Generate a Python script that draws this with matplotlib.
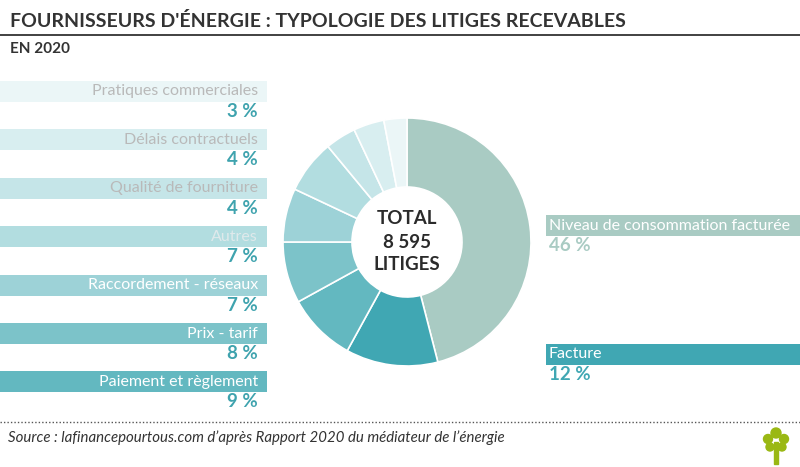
import numpy as np
import matplotlib.pyplot as plt
from matplotlib.patches import Ellipse, Rectangle

# data
pie_labels = ['Niveau de consommation facturée', 'Facture', 'Paiement et règlement',
              'Prix - tarif', 'Raccordement - réseaux', 'Autres', 'Qualité de fourniture',
              'Délais contractuels', 'Pratiques commerciales']
pie_values = [46, 12, 9, 8, 7, 7, 4, 4, 3]
pie_colors = ['#a9cbc3', '#40a7b3', '#63b8c0', '#7cc3c9', '#9dd2d7', '#b2dde0',
              '#c5e5e8', '#d8eef0', '#ebf6f7']
label_colors = ['#ffffff', '#ffffff', '#ffffff', '#ffffff', '#ffffff', '#dfe9eb',
                '#b9b9b9', '#b9b9b9', '#b9b9b9']
total = '8 595'

plt.rcParams['font.family'] = ['Lato', 'DejaVu Sans']

fig = plt.figure(figsize=(8, 4.67), dpi=100)
ax = fig.add_axes([0, 0, 1, 1])
ax.set_xlim(0, 800)
ax.set_ylim(467, 0)
ax.axis('off')

# title
ax.text(10, 21, "FOURNISSEURS D'ÉNERGIE : TYPOLOGIE DES LITIGES RECEVABLES",
        fontsize=14, fontweight='bold', color='#333333', va='center', ha='left')
ax.plot([0, 800], [35, 35], color='#333333', lw=1.3)
ax.text(10, 49, 'EN 2020', fontsize=11, fontweight='bold', color='#333333', va='center')

# left labels (slices 2..8, listed top to bottom)
left_idx = list(range(len(pie_values) - 1, 1, -1))
ys = 91.5 + 48.4 * np.arange(len(left_idx))
ax.barh(ys, [267] * len(left_idx), height=21, left=0,
        color=[pie_colors[i] for i in left_idx])
for k, i in enumerate(left_idx):
    ax.text(258, ys[k], pie_labels[i], ha='right', va='center', fontsize=11.5,
            color=label_colors[i])
    ax.text(258, ys[k] + 20, f'{pie_values[i]} %', ha='right', va='center',
            fontsize=13.5, fontweight='bold', color='#3fa3ae')

# right labels
right_y = [225.5, 354.5]
ax.barh(right_y, [254, 254], height=21, left=546, color=pie_colors[:2])
for k in range(2):
    ax.text(549, right_y[k], pie_labels[k], ha='left', va='center', fontsize=11.5,
            color=label_colors[k])
    ax.text(549, right_y[k] + 20, f'{pie_values[k]} %', ha='left', va='center',
            fontsize=13.5, fontweight='bold', color=pie_colors[k])

# footer
ax.plot([0, 800], [422, 422], color='#555555', lw=1, ls=(0, (1, 1.5)))
ax.text(8, 438, "Source : lafinancepourtous.com d’après Rapport 2020 du médiateur de l’énergie",
        fontsize=10.8, style='italic', color='#333333', va='center')

# small tree logo
green = '#9ab814'
ax.add_patch(Rectangle((774, 442), 4, 22, color=green))
for cx, cy, r in [(776, 433, 5), (768, 439, 4.5), (784, 439, 4.5), (770, 447, 4), (782, 447, 4)]:
    ax.add_patch(Ellipse((cx, cy), 2 * r, 2 * r, color=green))

# donut
cx, cy, r = 407, 242, 124
pax = fig.add_axes([(cx - r) / 800, (467 - cy - r) / 467, 2 * r / 800, 2 * r / 467])
pax.pie(pie_values, colors=pie_colors, startangle=90, counterclock=False,
        wedgeprops=dict(width=1 - 55 / 124, edgecolor='white', linewidth=1.2))
pax.set_xlim(-1, 1)
pax.set_ylim(-1, 1)
pax.set_aspect('equal')
pax.axis('off')
for yy, s in [(0.19, 'TOTAL'), (0.0, total), (-0.18, 'LITIGES')]:
    pax.text(0, yy, s, ha='center', va='center', fontsize=13.5, fontweight='bold', color='#2b2b2b')

fig.savefig('out.png', dpi=100)
